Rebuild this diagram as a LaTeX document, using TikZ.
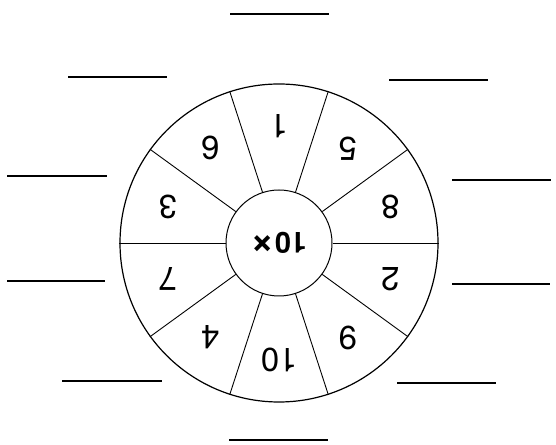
\documentclass[tikz,border=0pt]{standalone}
\usepackage{fontspec}
\setmainfont{TeX Gyre Heros}
\newfontfamily\heros{TeX Gyre Heros}

\begin{document}
\begin{tikzpicture}[x=1pt, y=1pt,
		blank/.style={line width=1.2pt},
		spoke/.style={line width=0.9pt},
		num/.style={rotate=180, font=\heros\fontsize{33pt}{33pt}\selectfont}]
	\useasboundingbox (0,0) rectangle (556,444);
	\node (wheel) at (279,201) [circle, draw=black, line width=1.2pt,
	minimum size=318pt, inner sep=0pt] {};
	\node (hub) at (279,201) [circle, draw=black, line width=1pt,
	minimum size=106pt, inner sep=0pt,
	font=\heros\bfseries\fontsize{29pt}{29pt}\selectfont]
	{\rotatebox{180}{10\raisebox{1pt}{\scalebox{1.4}{×}}}};
	\foreach \a in {0,36,...,324}
		\draw [spoke] (hub.\a) -- (wheel.\a);
	\foreach \n/\a in {1/90, 5/54, 8/18, 2/-18, 9/-54, 10/-90, 4/-126,
		7/-162, 3/162, 6/126}
		\node (num\n) [num] at ([shift={(\a:117)}]hub.center) {\n};
	% lines to write the answers on
	\foreach \xa/\xb/\y in {230/329/430, 68/167/367, 389/488/364,
		7/107/268, 452/551/264, 7/105/163, 452/550/160,
		62/162/63, 397/496/61, 229/328/4}
		\draw [blank] (\xa,\y) -- (\xb,\y);
\end{tikzpicture}
\end{document}
